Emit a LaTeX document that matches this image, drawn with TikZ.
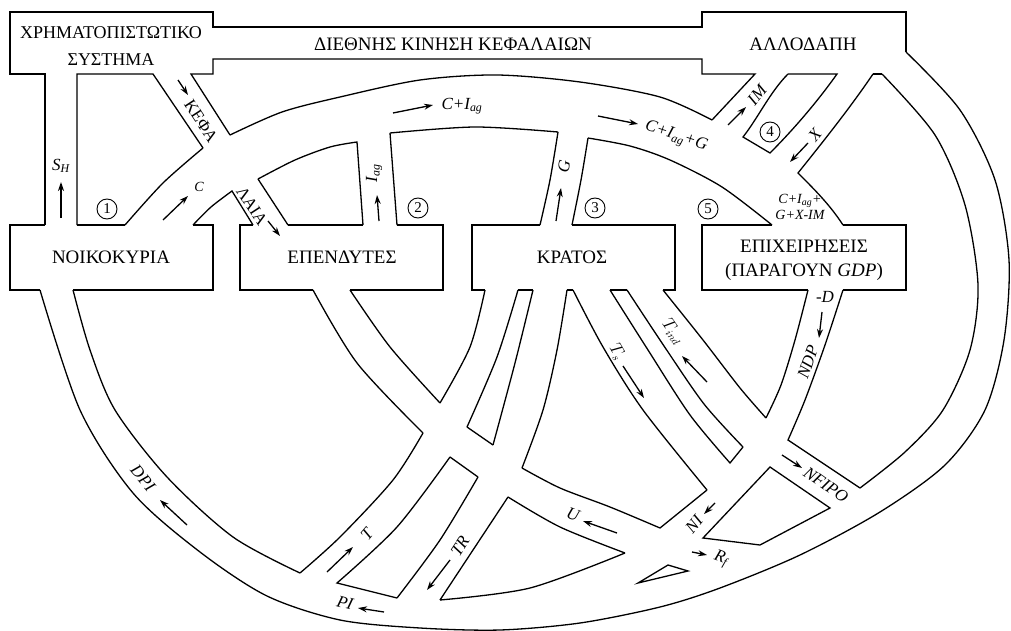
\documentclass[tikz,border=0pt]{standalone}
\usepackage{fontspec}
\setmainfont{Liberation Serif}[Ligatures=TeX]
\newfontfamily\grserif{Liberation Serif}
\usetikzlibrary{arrows.meta}
\newcommand\lsub[1]{\textsubscript{#1}}
\begin{document}
\begin{tikzpicture}[x=1pt,y=-1pt,line width=1.3pt,line join=miter,
  flow/.style={-{Stealth[length=9pt,width=6pt]},line width=1.3pt},
  boxlab/.style={font=\grserif\fontsize{19}{24}\selectfont,align=center,inner sep=0pt},
  lab/.style={font=\grserif\fontsize{17}{18}\selectfont\itshape,inner sep=0pt},
  smalllab/.style={font=\grserif\fontsize{14}{16}\selectfont\itshape,inner sep=0pt,align=center},
  num/.style={circle,draw,line width=0.9pt,minimum size=20pt,inner sep=0pt,font=\grserif\fontsize{15}{15}\selectfont}]
\useasboundingbox (0,0) rectangle (1011,631);

% ---------- top frame: financial system, international capital, foreign sector
\draw (45,225) -- (45,74) -- (10,74) -- (10,12) -- (213,12) -- (213,27) -- (702,27) -- (702,12) -- (906,12) -- (906,52);
\draw (77,225) -- (77,74) -- (153,74) -- (203,148);
\draw (230,135) -- (191,74) -- (213,74) -- (213,59) -- (702,59) -- (702,74) -- (755,74) -- (712,120);
% island 4
\draw (788,74) -- (837,74) .. controls (815,105) and (790,133) .. (770,153) -- (743,137) .. controls (758,118) and (770,92) .. (788,74);
\draw (873,74) -- (882,74);
\draw (873,74) .. controls (850,108) and (822,143) .. (798,173) .. controls (815,190) and (830,205) .. (843,225);

% ---------- main upper arc
\draw plot[smooth] coordinates {(125,225) (163,183) (203,148)};
\draw plot[smooth] coordinates {(230,135) (282,112) (340,97) (420,80) (497,75) (580,82) (660,97) (712,120)};
\draw plot[smooth] coordinates {(193,225) (211,207) (232,191)} -- (253,225);
\draw (288,225) -- (258,179);
\draw plot[smooth] coordinates {(258,179) (295,160) (330,147) (357,142)} -- (363,225);
\draw (397,225) -- (390,133);
\draw plot[smooth] coordinates {(390,133) (475,127) (558,132)};
\draw plot[smooth] coordinates {(558,132) (550,180) (540,225)};
\draw plot[smooth] coordinates {(572,225) (581,180) (588,138)};
\draw plot[smooth] coordinates {(588,138) (630,146) (670,160) (722,187) (772,225)};

% ---------- sector boxes (open where the pipes join)
\draw (45,225) -- (10,225) -- (10,290) -- (40,290);
\draw (77,225) -- (125,225);
\draw (193,225) -- (213,225) -- (213,290) -- (73,290);
\draw (253,225) -- (240,225) -- (240,290) -- (313,290);
\draw (288,225) -- (363,225);
\draw (397,225) -- (443,225) -- (443,290) -- (350,290);
\draw (540,225) -- (472,225) -- (472,290) -- (485,290);
\draw (572,225) -- (675,225) -- (675,290) -- (663,290);
\draw (518,290) -- (533,290);
\draw (567,290) -- (573,290);
\draw (610,290) -- (627,290);
\draw (772,225) -- (702,225) -- (702,290) -- (808,290);
\draw (843,225) -- (906,225) -- (906,290) -- (843,290);

% ---------- lower pipes
\draw plot[smooth] coordinates {(73,290) (90,350) (115,410) (167,477) (233,537) (300,573)};
\draw plot[smooth] coordinates {(485,290) (470,347) (440,403)};
\draw plot[smooth] coordinates {(350,290) (390,347) (440,403)};
\draw plot[smooth] coordinates {(313,290) (357,363) (423,433)};
\draw plot[smooth] coordinates {(423,433) (393,480) (340,537) (300,573)};
\draw plot[smooth] coordinates {(518,290) (497,357) (467,427)};
\draw (467,427) -- (493,445);
\draw (450,457) -- (478,477);
\draw plot[smooth] coordinates {(450,457) (397,527) (337,583)} -- (397,598);
\draw plot[smooth] coordinates {(533,290) (515,363) (493,445)};
\draw plot[smooth] coordinates {(478,477) (440,540) (397,598)};
\draw plot[smooth] coordinates {(567,290) (557,350) (543,410) (522,468)};
\draw plot[smooth] coordinates {(522,468) (560,488) (610,507) (660,528)} -- (707,490);
\draw plot[smooth] coordinates {(573,290) (603,347) (643,410) (707,490)};
\draw plot[smooth] coordinates {(508,497) (473,550) (440,600)};
\draw plot[smooth] coordinates {(440,600) (530,588) (625,553)};
\draw plot[smooth] coordinates {(508,497) (560,527) (625,553)};
\draw plot[smooth] coordinates {(610,290) (648,350) (690,415) (730,463)} -- (743,447);
\draw plot[smooth] coordinates {(627,290) (664,346) (704,404) (743,447)};
\draw plot[smooth] coordinates {(663,290) (703,340) (740,388) (766,418)};
\draw plot[smooth] coordinates {(808,290) (795,340) (781,385) (766,418)};
\draw plot[smooth] coordinates {(843,290) (825,345) (805,400) (788,440)} -- (860,488);
\draw (770,467) -- (830,508) -- (760,545) -- (703,538) -- cycle;
\draw (638,583) -- (668,565) -- (688,571) -- cycle;
\draw plot[smooth] coordinates {(860,488) (905,452) (943,410) (970,350) (978,285) (965,205) (935,135) (882,74)};
\draw plot[smooth] coordinates {(906,52) (960,110) (995,180) (1009,260) (1004,340) (985,410) (945,465) (880,512) (800,555) (720,588) (660,607) (580,623) (500,630) (420,628) (340,620) (267,596) (200,552) (133,493) (80,410) (40,290)};

% ---------- sector labels
\node[boxlab,font=\grserif\fontsize{18}{27}\selectfont] (fin) at (111,46) {ΧΡΗΜΑΤΟΠΙΣΤΩΤΙΚΟ\\ΣΥΣΤΗΜΑ};
\node[boxlab] (cap) at (453,44) {ΔΙΕΘΝΗΣ ΚΙΝΗΣΗ ΚΕΦΑΛΑΙΩΝ};
\node[boxlab] (row) at (803,44) {ΑΛΛΟΔΑΠΗ};
\node[boxlab] (hh) at (111,257) {ΝΟΙΚΟΚΥΡΙΑ};
\node[boxlab] (inv) at (342,257) {ΕΠΕΝΔΥΤΕΣ};
\node[boxlab] (gov) at (572,257) {ΚΡΑΤΟΣ};
\node[boxlab] (firm) at (804,260) {ΕΠΙΧΕΙΡΗΣΕΙΣ\\(ΠΑΡΑΓΟΥΝ \textit{GDP})};

% ---------- sector numbers
\node[num] (n1) at (107,209) {1};
\node[num] (n2) at (418,208) {2};
\node[num] (n3) at (595,208) {3};
\node[num] (n4) at (770,132) {4};
\node[num] (n5) at (708,209) {5};

% ---------- flow labels
\node[lab] (lsh) at (61,166) {S\lsub{H}};
\node[lab,font=\grserif\fontsize{14}{15}\selectfont\itshape] (lc) at (199,187) {C};
\node[boxlab,font=\grserif\fontsize{17}{18}\selectfont,rotate=-57] (lk1) at (201,121) {ΚΕΦΑ};
\node[boxlab,font=\grserif\fontsize{17}{18}\selectfont,rotate=-57] (lk2) at (252,206) {ΛΑΙΑ};
\node[lab] (lcia) at (462,106) {C+I\lsub{ag}};
\node[lab,rotate=90] (lia) at (374,173) {I\lsub{ag}};
\node[lab,rotate=80] (lg) at (564,166) {G};
\node[lab,rotate=-18] (lciag) at (676,137) {C+I\lsub{ag}+G};
\node[lab,rotate=50] (lim) at (757,95) {IM};
\node[lab,rotate=50] (lx) at (815,135) {X};
\node[smalllab] (lsum) at (800,207) {C+I\lsub{ag}+\\G+X-IM};
\node[lab] (ld) at (825,297) {-D};
\node[lab,rotate=71] (lndp) at (808,362) {NDP};
\node[rotate=-55,inner sep=0pt,font=\fontsize{16}{17}\selectfont] (ltind) at (673,332) {$T_{ind}$};
\node[rotate=-60,inner sep=0pt,font=\fontsize{16}{17}\selectfont] (lts) at (617,352) {$T_{s}$};
\node[lab,rotate=-35] (lnf) at (826,485) {NFIPO};
\node[lab,rotate=50] (lni) at (694,524) {NI};
\node[lab,rotate=-20] (lrf) at (721,559) {R\lsub{f}};
\node[lab,rotate=-20] (lu) at (573,514) {U};
\node[lab,rotate=57] (ltr) at (460,546) {TR};
\node[lab,rotate=50] (lt) at (367,534) {T};
\node[lab,rotate=-15] (lpi) at (345,603) {PI};
\node[lab,rotate=-50] (ldpi) at (143,478) {DPI};

% ---------- flow arrows
\draw[flow] (61,218) -- (61,182);
\draw[flow] (163,220) -- (188,196);
\draw[flow] (178,80) -- (188,95);
\draw[flow] (268,221) -- (280,236);
\draw[flow] (393,113) -- (433,105);
\draw[flow] (379,221) -- (377,195);
\draw[flow] (556,221) -- (561,188);
\draw[flow] (598,116) -- (638,124);
\draw[flow] (728,125) -- (746,107);
\draw[flow] (808,143) -- (790,162);
\draw[flow] (822,312) -- (819,338);
\draw[flow] (707,382) -- (682,356);
\draw[flow] (623,366) -- (644,398);
\draw[flow] (782,455) -- (802,468);
\draw[flow] (715,503) -- (704,514);
\draw[flow] (692,552) -- (707,555);
\draw[flow] (617,533) -- (583,521);
\draw[flow] (450,560) -- (427,590);
\draw[flow] (327,572) -- (353,547);
\draw[flow] (384,612) -- (358,608);
\draw[flow] (187,525) -- (160,500);
\end{tikzpicture}
\end{document}
